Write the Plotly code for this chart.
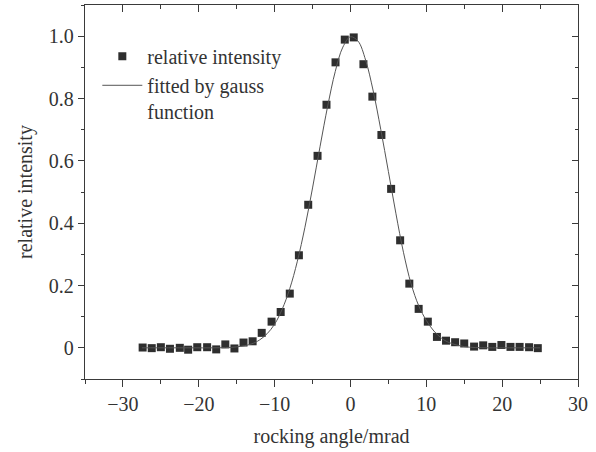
import plotly.graph_objects as go

# measured data points
angle = [-27.4, -26.2, -25.0, -23.8, -22.5, -21.4, -20.2, -18.9, -17.7, -16.5,
         -15.3, -14.1, -12.9, -11.7, -10.4, -9.2, -8.0, -6.8, -5.57, -4.34,
         -3.16, -1.97, -0.75, 0.43, 1.71, 2.89, 4.08, 5.36, 6.55, 7.76,
         8.99, 10.2, 11.4, 12.6, 13.8, 15.0, 16.3, 17.5, 18.7, 19.9,
         21.1, 22.3, 23.55, 24.7]
intensity = [0.001, -0.001, 0.002, -0.003, 0.0, -0.006, 0.002, 0.002, -0.005, 0.011,
             -0.002, 0.017, 0.021, 0.048, 0.084, 0.115, 0.174, 0.297, 0.459, 0.616,
             0.780, 0.916, 0.989, 0.996, 0.910, 0.806, 0.683, 0.510, 0.345, 0.206,
             0.125, 0.084, 0.035, 0.023, 0.018, 0.014, 0.004, 0.008, 0.003, 0.009,
             0.003, 0.003, 0.002, -0.001]

# fitted gauss curve
fit_x = [-27.5, -24, -21, -18, -15, -13, -12, -11, -10, -9, -8, -7, -6, -5, -4, -3,
         -2, -1, 0, 1, 2, 3, 4, 5, 6, 7, 8, 9, 10, 11, 12, 13, 15, 18, 21, 25]
fit_y = [0.0, 0.0, 0.0, 0.0, 0.003, 0.013, 0.025, 0.045, 0.076, 0.124, 0.19, 0.278,
         0.387, 0.513, 0.647, 0.776, 0.887, 0.965, 0.998, 0.984, 0.923, 0.824, 0.70,
         0.566, 0.43, 0.305, 0.205, 0.135, 0.088, 0.054, 0.031, 0.017, 0.004, 0.0,
         0.0, 0.0]

y_tickvals = [0, 0.2, 0.4, 0.6, 0.8, 1.0]
y_ticktext = ["0", "0.2", "0.4", "0.6", "0.8", "1.0"]
x_tickvals = [-30, -20, -10, 0, 10, 20, 30]

FONT = "Liberation Serif"
AX = "#3a3a3a"
FS = 20

fig = go.Figure()
fig.add_trace(go.Scatter(
    x=angle, y=intensity, mode="markers", name="relative intensity",
    marker=dict(symbol="square", size=8, color="#2e2e2e"),
))
fig.add_trace(go.Scatter(
    x=fit_x, y=fit_y, mode="lines", name="fitted by gauss<br>function",
    line=dict(color="#555555", width=1, shape="spline"),
))
# invisible helper trace for top/right mirror axes
fig.add_trace(go.Scatter(x=[None], y=[None], xaxis="x2", yaxis="y2",
                         showlegend=False, hoverinfo="skip"))

fig.update_layout(
    width=596, height=452,
    margin=dict(l=85, r=18, t=5, b=73),
    paper_bgcolor="white", plot_bgcolor="white",
    font=dict(family=FONT, size=FS, color="#333333"),
    showlegend=True,
    legend=dict(x=0.025, y=0.915, xanchor="left", yanchor="top",
                bgcolor="rgba(0,0,0,0)", font=dict(size=FS, family=FONT),
                valign="top", tracegroupgap=0, itemwidth=40),
    xaxis=dict(range=[-35, 30], tickvals=x_tickvals, ticks="outside", ticklen=7,
               tickwidth=1.3, tickcolor=AX, showline=True, linecolor=AX, linewidth=1.3,
               showgrid=False, zeroline=False,
               minor=dict(ticks="outside", ticklen=4, dtick=5, tick0=0, tickcolor=AX, tickwidth=1.3),
               title=dict(text="rocking angle/mrad", font=dict(size=FS), standoff=14),
               tickfont=dict(size=FS)),
    xaxis2=dict(range=[-35, 30], overlaying="x", side="top", tickvals=x_tickvals,
                ticks="inside", ticklen=7, tickwidth=1.3, tickcolor=AX, showticklabels=False,
                showline=True, linecolor=AX, linewidth=1.3, showgrid=False, zeroline=False,
                minor=dict(ticks="inside", ticklen=4, dtick=5, tick0=0, tickcolor=AX, tickwidth=1.3)),
    yaxis=dict(range=[-0.1, 1.1], tickvals=y_tickvals, ticktext=y_ticktext, ticks="outside",
               ticklen=6, tickwidth=1.3, tickcolor=AX, showline=True, linecolor=AX, linewidth=1.3,
               showgrid=False, zeroline=False,
               minor=dict(ticks="outside", ticklen=3, dtick=0.1, tick0=0, tickcolor=AX, tickwidth=1.3),
               title=dict(text="relative intensity", font=dict(size=FS), standoff=10),
               tickfont=dict(size=FS)),
    yaxis2=dict(range=[-0.1, 1.1], overlaying="y", side="right", tickvals=y_tickvals,
                ticks="inside", ticklen=6, tickwidth=1.3, tickcolor=AX, showticklabels=False,
                showline=True, linecolor=AX, linewidth=1.3, showgrid=False, zeroline=False,
                minor=dict(ticks="inside", ticklen=3, dtick=0.1, tick0=0, tickcolor=AX, tickwidth=1.3)),
)

fig.write_html("out.html", config={"displayModeBar": False},
               post_script="document.body.style.margin='0';")
